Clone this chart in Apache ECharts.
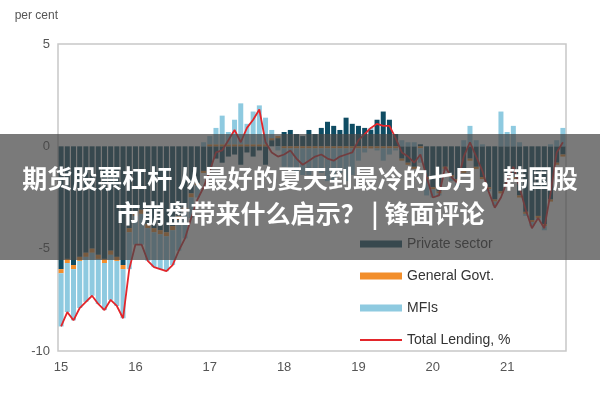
<!DOCTYPE html>
<html lang="en">
<head>
  <meta charset="UTF-8">
  <title>Lending</title>
  <script src="https://cdn.jsdelivr.net/npm/echarts@6/dist/echarts.min.js"></script>
  <style>
    html, body { margin: 0; padding: 0; background: #fff; }
    #chart { width: 600px; height: 400px; }
  </style>
</head>
<body>
<div id="chart"></div>
<script>
  // year tick labels, one every 12 months
  const years = ['15', '16', '17', '18', '19', '20', '21'];
  const months = [];
  for (let k = 0; k < 82; k++) {
    months.push(years[Math.floor(k / 12)] + '-' + (k % 12 + 1));
  }

  const privateSector = [
    -6.0, -5.5, -5.8, -5.4, -5.2, -5.0, -5.3, -5.5, -5.1, -5.4, -5.8, -4.0,
    -3.2, -3.1, -3.8, -4.0, -4.1, -4.2, -3.9, -3.4, -3.0, -2.3, -1.8, -1.2,
    -1.0, -0.6, -0.8, -0.5, -0.4, -0.9, -0.3, -0.5, -0.2, -0.9, 0.3, 0.4,
    0.7, 0.8, 0.6, 0.5, 0.8, 0.6, 0.9, 1.2, 1.0, 0.8, 1.4, 1.1,
    1.0, 0.9, 0.8, 1.3, 1.7, 1.3, 0.6, -0.6, -0.8, -1.0, 0.1, -1.5,
    -2.0, -2.2, -1.0, -1.4, -1.6, -1.2, -0.6, -1.0, -1.5, -2.0, -2.6, -2.2,
    -1.8, -1.5, -2.4, -3.2, -3.6, -3.4, -3.8, -2.6, -0.8, -0.4
  ];
  const generalGovt = [
    -0.2, -0.2, -0.2, -0.2, -0.2, -0.2, -0.2, -0.2, -0.2, -0.2, -0.2, -0.2,
    -0.2, -0.2, -0.2, -0.2, -0.2, -0.2, -0.2, -0.2, -0.2, -0.2, -0.1, -0.1,
    0.1, 0.1, 0.1, 0.1, 0.1, 0.1, 0.1, 0.1, 0.1, 0.1, 0.1, 0.1,
    -0.1, -0.1, -0.1, -0.1, -0.1, -0.1, -0.1, -0.1, -0.1, -0.1, -0.1, -0.1,
    -0.1, -0.1, -0.1, -0.1, -0.1, -0.1, -0.1, -0.1, -0.1, -0.1, -0.1, -0.1,
    -0.1, -0.1, -0.1, -0.1, -0.1, -0.1, -0.1, -0.1, -0.1, -0.1, -0.1, -0.1,
    -0.1, -0.1, -0.1, -0.1, -0.1, -0.1, -0.1, -0.1, -0.1, -0.1
  ];
  const mfis = [
    -2.6, -2.4, -2.5, -2.3, -2.2, -2.1, -2.2, -2.3, -2.2, -2.2, -2.4, -1.8,
    -1.4, -1.5, -1.6, -1.7, -1.7, -1.7, -1.7, -1.5, -1.3, -1.0, -0.6, 0.2,
    0.4, 0.8, 1.4, 0.6, 1.2, 2.0, 1.0, 1.6, 1.9, 1.3, 0.4, -0.2,
    -0.9, -1.0, -1.2, -1.3, -1.3, -1.0, -1.2, -1.6, -1.6, -1.2, -1.6, -1.3,
    -0.6, -0.2, 0.1, -0.1, -0.6, -0.3, -0.1, 0.3, 0.2, 0.2, -0.7, -0.8,
    -0.4, -0.1, -0.1, -0.2, -0.3, 0.3, 1.0, 0.3, 0.1, -0.1, -0.2, 1.7,
    0.7, 1.0, 0.2, -0.1, -0.2, -0.1, -0.2, 0.1, 0.3, 0.9
  ];
  const totalLending = [
    -8.8, -8.1, -8.5, -7.9, -7.6, -7.3, -7.7, -8.0, -7.5, -7.8, -8.4, -6.0,
    -4.8, -4.8, -5.6, -5.9, -6.0, -6.1, -5.8, -5.1, -4.5, -3.5, -2.6, -2.0,
    -1.2, -0.3, -0.2, 0.3, 0.8, 0.2, 0.9, 1.3, 1.8, 0.2, -0.3, -0.5,
    -0.4, -0.2, -0.6, -0.9, -0.7, -0.5, -0.4, -0.6, -0.7, -0.5, -0.4, -0.3,
    0.3, 0.6, 0.9, 1.1, 1.0, 1.0, 0.4, -0.3, -0.5, -0.8, -0.4, -1.5,
    -2.5, -2.4, -1.0, -1.5, -1.8, -0.5, 0.2, -0.5, -1.2, -2.2, -3.0, -2.5,
    -1.7, -1.0, -2.0, -3.1, -4.0, -3.5, -4.0, -2.3, -0.3, 0.2
  ];

  const chart = echarts.init(document.getElementById('chart'));
  const barCommon = { type: 'bar', stack: 'lend', barWidth: 5 };
  chart.setOption({
    animation: false,
    textStyle: { fontFamily: 'Arial, "Liberation Sans", sans-serif' },
    grid: { left: 58, right: 34, top: 44, bottom: 49, show: true, borderColor: '#c8c8c8', borderWidth: 1.5 },
    legend: {
      orient: 'vertical', left: 355, top: 232, itemGap: 18,
      itemWidth: 42, itemHeight: 7,
      textStyle: { color: '#333', fontSize: 14 },
      data: [
        { name: 'Private sector', icon: 'rect' },
        { name: 'General Govt.', icon: 'rect' },
        { name: 'MFIs', icon: 'rect' },
        { name: 'Total Lending, %', icon: 'path://M0,0H42V2H0Z', itemStyle: { color: '#e3262b' } }
      ]
    },
    xAxis: {
      type: 'category', data: months,
      axisLine: { show: false }, axisTick: { show: false },
      axisLabel: {
        interval: 11, color: '#555', fontSize: 13, margin: 10,
        formatter: function (v) { return v.split('-')[0]; }
      }
    },
    yAxis: {
      type: 'value', min: -10, max: 5, interval: 5,
      name: 'per cent', nameLocation: 'end', nameGap: 22,
      nameTextStyle: { color: '#555', fontSize: 12, align: 'right' },
      splitLine: { show: false }, axisLine: { show: false }, axisTick: { show: false },
      axisLabel: { color: '#555', fontSize: 13 }
    },
    series: [
      Object.assign({ name: 'Private sector', data: privateSector, itemStyle: { color: '#0f4c63' } }, barCommon),
      Object.assign({ name: 'General Govt.', data: generalGovt, itemStyle: { color: '#f28e2b' } }, barCommon),
      Object.assign({ name: 'MFIs', data: mfis, itemStyle: { color: '#8ecae0' } }, barCommon),
      {
        name: 'Total Lending, %', type: 'line', data: totalLending,
        symbol: 'none', lineStyle: { color: '#e3262b', width: 1.8 },
        itemStyle: { color: '#e3262b' }, z: 5
      }
    ],
    graphic: [
      { type: 'rect', left: 0, top: 134, z: 100, shape: { width: 600, height: 126 },
        style: { fill: 'rgba(70,70,70,0.72)' } },
      { type: 'text', left: 'center', top: 166, z: 101,
        style: { text: '期货股票杠杆 从最好的夏天到最冷的七月，韩国股', fill: '#fff',
          font: 'bold 25px "Noto Sans CJK SC"' } },
      { type: 'text', left: 'center', top: 201, z: 101,
        style: { text: '市崩盘带来什么启示？ | 锋面评论', fill: '#fff',
          font: 'bold 25px "Noto Sans CJK SC"' } }
    ]
  });
</script>
</body>
</html>
